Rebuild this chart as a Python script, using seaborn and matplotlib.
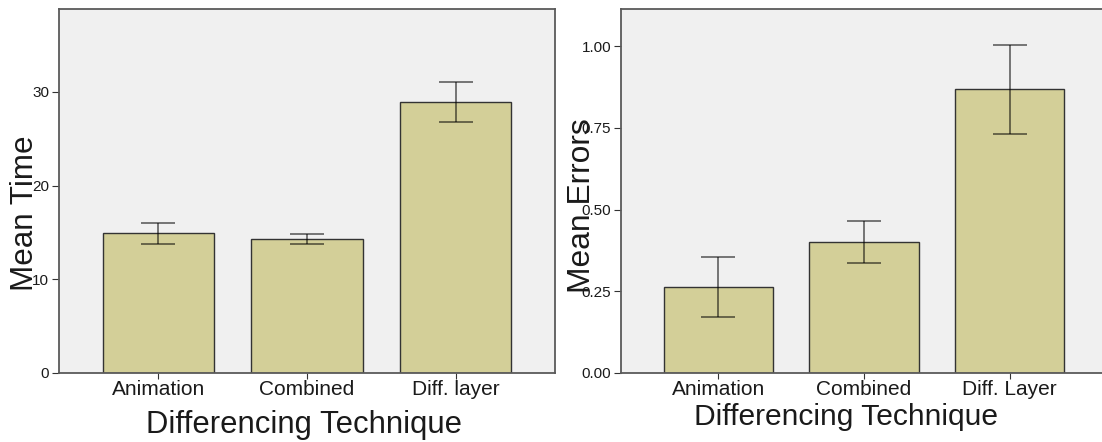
import matplotlib
matplotlib.use("Agg")
import matplotlib.pyplot as plt
import numpy as np
import pandas as pd
import seaborn as sns

# --- data ---
time_categories = ["Animation", "Combined", "Diff. layer"]
mean_time = [14.91, 14.30, 28.89]
time_low = [13.77, 13.77, 26.76]
time_high = [16.04, 14.80, 31.09]

error_categories = ["Animation", "Combined", "Diff. Layer"]
mean_errors = [0.263, 0.400, 0.868]
errors_low = [0.170, 0.336, 0.732]
errors_high = [0.356, 0.466, 1.004]

BAR_COLOR = "#d3cf98"
BG_COLOR = "#f0f0f0"
SPINE_COLOR = "#5a5a5a"

sns.set_style("ticks", {"axes.facecolor": BG_COLOR, "axes.edgecolor": SPINE_COLOR})
plt.rcParams["font.family"] = ["Liberation Sans", "DejaVu Sans"]

fig = plt.figure(figsize=(11.02, 4.42), dpi=100)
W, H = 1102, 442


def px_axes(left, right, top, bottom):
    return fig.add_axes([left / W, (H - bottom) / H, (right - left) / W, (bottom - top) / H])


def draw_panel(ax, cats, means, low, high, ylim, yticks, fmt):
    df = pd.DataFrame({"cat": cats, "mean": means})
    sns.barplot(data=df, x="cat", y="mean", color=BAR_COLOR, saturation=1,
                width=0.75, edgecolor="#333333", linewidth=1.0,
                errorbar=None, ax=ax)
    means = np.array(means)
    yerr = [means - np.array(low), np.array(high) - means]
    ax.errorbar(np.arange(len(cats)), means, yerr=yerr, fmt="none",
                ecolor="black", alpha=0.6, elinewidth=1.2, capsize=11.9,
                capthick=1.2)
    ax.set_xlim(-0.67, 2.67)
    ax.set_ylim(*ylim)
    ax.set_yticks(yticks)
    ax.set_yticklabels([fmt.format(t) for t in yticks])
    ax.set_xlabel("")
    ax.set_ylabel("")
    ax.tick_params(axis="x", labelsize=15, length=4, pad=1, color="#333333",
                   labelcolor="#1a1a1a")
    ax.tick_params(axis="y", labelsize=11, length=5, pad=2, color="#333333",
                   labelcolor="#1a1a1a")
    for sp in ax.spines.values():
        sp.set_visible(True)
        sp.set_color(SPINE_COLOR)
        sp.set_linewidth(1.3)


ax1 = px_axes(59, 555, 9, 373)
draw_panel(ax1, time_categories, mean_time, time_low, time_high,
           (0, 38.85), [0, 10, 20, 30], "{:g}")

ax2 = px_axes(621, 1107, 9, 373)
draw_panel(ax2, error_categories, mean_errors, errors_low, errors_high,
           (0, 1.114), [0, 0.25, 0.5, 0.75, 1.0], "{:.2f}")

# axis titles placed by pixel, like the original export
fig.text(33 / W, (H - 213.5) / H, "Mean Time", rotation=90, rotation_mode="anchor",
         ha="center", va="baseline", fontsize=22.6, color="#1a1a1a")
fig.text(590 / W, (H - 205.5) / H, "Mean Errors", rotation=90, rotation_mode="anchor",
         ha="center", va="baseline", fontsize=22.9, color="#1a1a1a")
fig.text(304 / W, (H - 433) / H, "Differencing Technique", ha="center",
         va="baseline", fontsize=22.3, color="#1a1a1a")
fig.text(846 / W, (H - 425) / H, "Differencing Technique", ha="center",
         va="baseline", fontsize=21.6, color="#1a1a1a")

fig.savefig("out.png", dpi=100, facecolor="white")
plt.close(fig)
